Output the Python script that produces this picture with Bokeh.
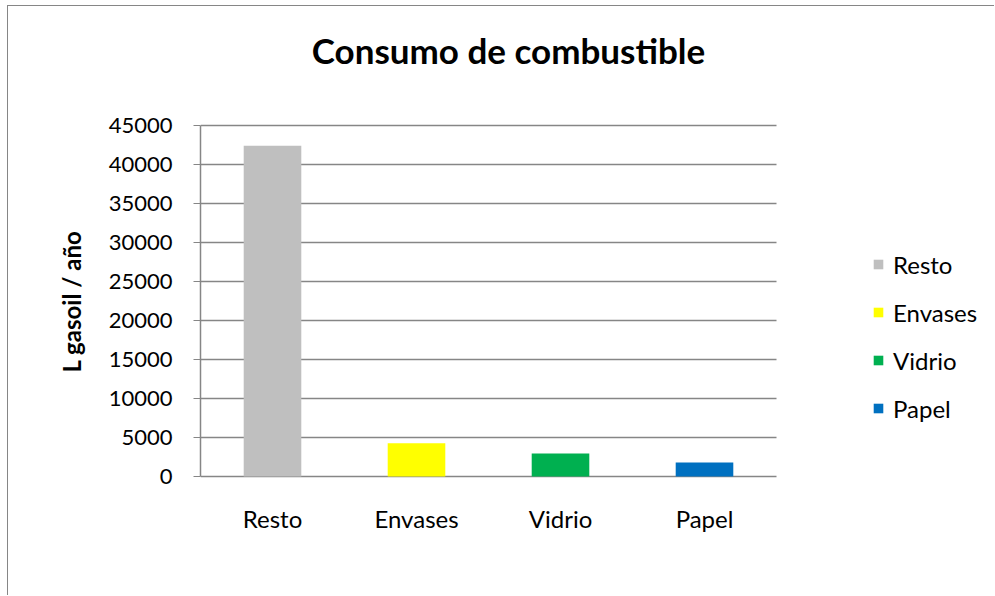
from bokeh.plotting import figure
from bokeh.models import Range1d, FixedTicker, Legend, LegendItem, ColumnDataSource, Label
from bokeh.core.properties import value
from bokeh.embed import file_html
from bokeh.resources import INLINE

categories = ["Resto", "Envases", "Vidrio", "Papel"]
values = [42400, 4250, 2950, 1800]
colors = ["#BFBFBF", "#FFFF00", "#00B050", "#0070C0"]
y_ticks = [0, 5000, 10000, 15000, 20000, 25000, 30000, 35000, 40000, 45000]
title_text = "Consumo de combustible"
y_label = "L gasoil / año"

FONT = "Lato"
GRID = "#868686"

# layout (pixels, page coordinates of the reference)
W, H = 987, 590
LEFT, RIGHT = 192, 5
CANVAS_TOP = 6          # page y of the canvas top
PLOT_LEFT = 200         # page x of the value axis
PLOT_TOP, PLOT_BOTTOM = 125, 476   # page y of the top gridline and of zero
PLOT_W = 576            # pixel width of the category area
FRAME_W = W - LEFT - RIGHT

n = len(categories)
y_max = y_ticks[-1]
px_per_unit = (PLOT_BOTTOM - PLOT_TOP) / y_max
y_end = (PLOT_BOTTOM - CANVAS_TOP) / px_per_unit
y_start = -((CANVAS_TOP + H) - PLOT_BOTTOM) / px_per_unit
x_end = n * FRAME_W / PLOT_W
pos = [i + 0.5 for i in range(n)]

def page_y(py):
    return (PLOT_BOTTOM - py) / px_per_unit

src = ColumnDataSource(dict(x=pos, val=values, col=colors, cat=categories))

p = figure(x_range=Range1d(0, x_end), y_range=Range1d(y_start, y_end),
           width=W, height=H, output_backend="svg", toolbar_location=None,
           x_axis_location=None,
           min_border_left=LEFT, min_border_top=0, min_border_right=RIGHT, min_border_bottom=0)
p.styles = {"margin-left": "7px", "margin-top": "5px",
            "border-top": "1px solid #868686", "border-left": "1px solid #868686"}

# gridlines (and the category axis line at zero), limited to the category area
for t in y_ticks:
    p.segment(x0=0, x1=n, y0=t, y1=t, line_color=GRID, line_width=1.5)

r = p.vbar(x="x", top="val", width=0.4, fill_color="col", line_color=None, source=src)

# category labels
p.text(x="x", y=page_y(518), text="cat", source=src, text_font=value(FONT),
       text_font_size="24px", text_color="black", text_align="center", text_baseline="middle")

p.outline_line_color = None
p.xgrid.grid_line_color = None
p.ygrid.grid_line_color = None

p.yaxis.ticker = FixedTicker(ticks=y_ticks)
p.yaxis.bounds = (0, y_max)
p.yaxis.axis_line_color = GRID
p.yaxis.axis_line_width = 1.5
p.yaxis.major_tick_line_color = GRID
p.yaxis.major_tick_out = 7
p.yaxis.major_tick_in = 0
p.yaxis.minor_tick_line_color = None
p.yaxis.major_label_text_font = FONT
p.yaxis.major_label_text_font_size = "22px"
p.yaxis.major_label_text_color = "black"
p.yaxis.major_label_standoff = 21
p.yaxis.axis_label = y_label
p.yaxis.axis_label_text_font = FONT
p.yaxis.axis_label_text_font_size = "24px"
p.yaxis.axis_label_text_font_style = "bold"
p.yaxis.axis_label_text_color = "black"
p.yaxis.axis_label_standoff = 20
p.yaxis.formatter.use_scientific = False

# title inside the (enlarged) frame
title_x = (508 - PLOT_LEFT) / PLOT_W * n
p.add_layout(Label(x=title_x, y=page_y(49), text=title_text, text_font=FONT,
                   text_font_size="35px", text_font_style="bold", text_color="black",
                   text_align="center", text_baseline="middle"))

items = [LegendItem(label=c, renderers=[r], index=i) for i, c in enumerate(categories)]
legend = Legend(items=items, location=(672, (CANVAS_TOP + H) - 423), orientation="vertical",
                padding=0, margin=0, spacing=18, glyph_width=12, glyph_height=12,
                label_height=30, label_standoff=9,
                label_text_font=FONT, label_text_font_size="24px", label_text_color="black",
                border_line_color=None, background_fill_alpha=0)
p.add_layout(legend, "center")

open("out.html", "w").write(file_html(p, INLINE))
